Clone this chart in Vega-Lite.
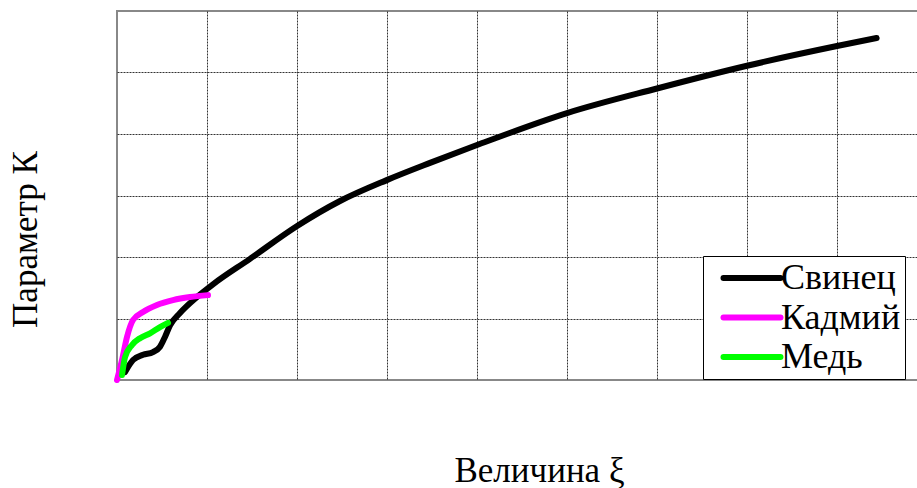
{
  "$schema": "https://vega.github.io/schema/vega-lite/v6.json",
  "autosize": "none",
  "padding": {"left": 117, "top": 11, "right": 0, "bottom": 108},
  "width": 810,
  "height": 369,
  "background": "white",
  "data": {"values": [
    {"s": "Свинец", "x": 0.09, "y": 0.13},
    {"s": "Свинец", "x": 0.178, "y": 0.325},
    {"s": "Свинец", "x": 0.289, "y": 0.41},
    {"s": "Свинец", "x": 0.4, "y": 0.455},
    {"s": "Свинец", "x": 0.478, "y": 0.54},
    {"s": "Свинец", "x": 0.533, "y": 0.7},
    {"s": "Свинец", "x": 0.589, "y": 0.89},
    {"s": "Свинец", "x": 0.7, "y": 1.09},
    {"s": "Свинец", "x": 0.889, "y": 1.35},
    {"s": "Свинец", "x": 1.07, "y": 1.56},
    {"s": "Свинец", "x": 1.478, "y": 1.97},
    {"s": "Свинец", "x": 1.997, "y": 2.5},
    {"s": "Свинец", "x": 2.478, "y": 2.91},
    {"s": "Свинец", "x": 2.997, "y": 3.25},
    {"s": "Свинец", "x": 3.478, "y": 3.53},
    {"s": "Свинец", "x": 4.0, "y": 3.82},
    {"s": "Свинец", "x": 5.0, "y": 4.34},
    {"s": "Свинец", "x": 6.0, "y": 4.74},
    {"s": "Свинец", "x": 7.0, "y": 5.11},
    {"s": "Свинец", "x": 8.0, "y": 5.43},
    {"s": "Свинец", "x": 8.44, "y": 5.56},
    {"s": "Кадмий", "x": 0.0, "y": 0.0},
    {"s": "Кадмий", "x": 0.056, "y": 0.325},
    {"s": "Кадмий", "x": 0.111, "y": 0.7},
    {"s": "Кадмий", "x": 0.178, "y": 0.976},
    {"s": "Кадмий", "x": 0.289, "y": 1.106},
    {"s": "Кадмий", "x": 0.444, "y": 1.22},
    {"s": "Кадмий", "x": 0.622, "y": 1.3},
    {"s": "Кадмий", "x": 0.811, "y": 1.35},
    {"s": "Кадмий", "x": 1.011, "y": 1.38},
    {"s": "Медь", "x": 0.056, "y": 0.08},
    {"s": "Медь", "x": 0.089, "y": 0.37},
    {"s": "Медь", "x": 0.167, "y": 0.57},
    {"s": "Медь", "x": 0.256, "y": 0.68},
    {"s": "Медь", "x": 0.367, "y": 0.76},
    {"s": "Медь", "x": 0.478, "y": 0.86},
    {"s": "Медь", "x": 0.567, "y": 0.93}
  ]},
  "mark": {"type": "line", "interpolate": "monotone", "strokeWidth": 6, "strokeCap": "round", "strokeJoin": "round"},
  "encoding": {
    "x": {"field": "x", "type": "quantitative", "scale": {"domain": [0, 9], "nice": false, "zero": false},
      "axis": {"title": "Величина ξ", "labels": false, "ticks": false, "domain": false, "grid": true,
        "values": [1, 2, 3, 4, 5, 6, 7, 8], "gridColor": "#333", "gridDash": [2, 1], "gridWidth": 1,
        "titleFont": "Times New Roman", "titleFontSize": 35, "titleFontWeight": "normal", "titleColor": "black",
        "titleX": 422, "titleY": 101, "titleBaseline": "alphabetic", "titleAlign": "center"}},
    "y": {"field": "y", "type": "quantitative", "scale": {"domain": [0, 6], "nice": false, "zero": false},
      "axis": {"title": "Параметр К", "labels": false, "ticks": false, "domain": false, "grid": true,
        "values": [1, 2, 3, 4, 5], "gridColor": "#333", "gridDash": [2, 1], "gridWidth": 1,
        "titleFont": "Times New Roman", "titleFontSize": 35, "titleFontWeight": "normal", "titleColor": "black",
        "titleX": -92, "titleY": 228, "titleAngle": -90, "titleBaseline": "middle", "titleAlign": "center"}},
    "color": {"field": "s", "type": "nominal", "sort": ["Свинец", "Кадмий", "Медь"],
      "scale": {"domain": ["Свинец", "Кадмий", "Медь"], "range": ["#000000", "#ff00ff", "#00ff00"]},
      "legend": {"title": null, "orient": "none", "legendX": 586, "legendY": 245,
        "fillColor": "white", "strokeColor": "black", "padding": 4, "rowPadding": 3.5,
        "symbolType": "M-2,0H2", "symbolSize": 812, "symbolStrokeWidth": 6, "symbolOffset": 27,
        "labelFont": "Times New Roman", "labelFontSize": 36, "labelColor": "black", "labelOffset": 11,
        "labelExpr": "datum.label + '\u00a0\u00a0\u00a0\u00a0\u00a0'",
        "encode": {"symbols": {"update": {"strokeCap": {"value": "round"}}},
                   "labels": {"update": {"font": {"value": "Times New Roman"}}}}}},
    "order": {"field": "s", "type": "nominal"}
  },
  "config": {"view": {"stroke": "#888", "strokeWidth": 2}, "legend": {"labelFont": "Times New Roman"}}
}
